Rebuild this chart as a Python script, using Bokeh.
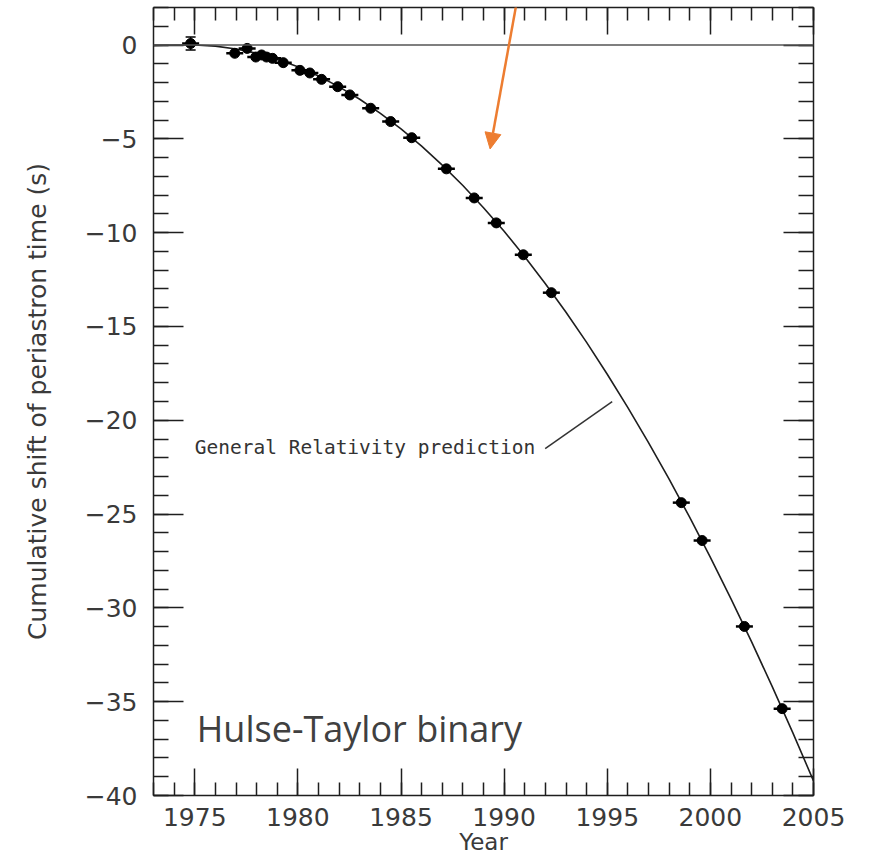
from bokeh.plotting import figure
from bokeh.models import (Range1d, LinearAxis, SingleIntervalTicker, Span, Label,
                          Arrow, NormalHead, Whisker, TeeHead, ColumnDataSource,
                          CustomJSTickFormatter)
from bokeh.embed import file_html
from bokeh.resources import INLINE

# ---- data ----
years = [1974.80, 1976.94, 1977.54, 1977.96, 1978.24, 1978.48, 1978.77, 1979.29,
         1980.10, 1980.58, 1981.15, 1981.93, 1982.52, 1983.53, 1984.50, 1985.52,
         1987.20, 1988.55, 1989.62, 1990.93, 1992.29, 1998.59, 1999.60, 2001.65,
         2003.48]
shift = [0.08, -0.44, -0.18, -0.64, -0.53, -0.64, -0.71, -0.94,
         -1.35, -1.49, -1.83, -2.22, -2.66, -3.37, -4.08, -4.94,
         -6.60, -8.15, -9.48, -11.18, -13.20, -24.39, -26.41, -30.99,
         -35.37]
err = [0.35, 0.0, 0.0, 0.0, 0.0, 0.0, 0.0, 0.0,
       0.0, 0.0, 0.0, 0.0, 0.0, 0.0, 0.0, 0.0,
       0.0, 0.0, 0.0, 0.0, 0.0, 0.0, 0.0, 0.0,
       0.0]

# General Relativity prediction curve (read at yearly steps)
gr_years = [1973, 1974, 1975, 1976, 1977, 1978, 1979, 1980, 1981, 1982, 1983,
            1984, 1985, 1986, 1987, 1988, 1989, 1990, 1991, 1992, 1993, 1994,
            1995, 1996, 1997, 1998, 1999, 2000, 2001, 2002, 2003, 2004, 2005]
gr_shift = [-0.02, 0.00, 0.00, -0.06, -0.21, -0.44, -0.76, -1.16, -1.65, -2.23,
            -2.89, -3.64, -4.47, -5.39, -6.40, -7.49, -8.67, -9.93, -11.28,
            -12.72, -14.24, -15.85, -17.55, -19.33, -21.19, -23.14, -25.18,
            -27.31, -29.52, -31.81, -34.20, -36.66, -39.22]

y_tick_values = [0, -5, -10, -15, -20, -25, -30, -35, -40]
y_tick_labels = ["0", "\u22125", "\u221210", "\u221215", "\u221220",
                 "\u221225", "\u221230", "\u221235", "\u221240"]

x_label = "Year"
y_label = "Cumulative shift of periastron time (s)"
gr_text = "General Relativity prediction"
title_text = "Hulse-Taylor binary"

TXT = "#3a3a3a"
INK = "#1e1e1e"

p = figure(frame_width=660, frame_height=788,
           x_range=Range1d(1973, 2005), y_range=Range1d(-40, 2),
           output_backend="svg", toolbar_location=None,
           min_border_left=153, min_border_right=61,
           min_border_top=7, min_border_bottom=61,
           background_fill_color="white", border_fill_color="white")
p.outline_line_color = None
p.xgrid.visible = False
p.ygrid.visible = False

top_ax = LinearAxis()
right_ax = LinearAxis()
p.add_layout(top_ax, "above")
p.add_layout(right_ax, "right")


def style(ax, horizontal, show):
    ax.ticker = SingleIntervalTicker(interval=5, num_minor_ticks=5)
    ax.axis_line_color = INK
    ax.axis_line_width = 1.5
    ax.major_tick_line_color = INK
    ax.major_tick_line_width = 1.5
    ax.minor_tick_line_color = INK
    ax.minor_tick_line_width = 1.5
    ax.major_tick_out = 0
    ax.minor_tick_out = 0
    ax.major_tick_in = 27 if horizontal else 30
    ax.minor_tick_in = 13 if horizontal else 15
    if show:
        ax.major_label_text_font = "DejaVu Sans"
        ax.major_label_text_font_size = "25px"
        ax.major_label_text_color = TXT
        ax.axis_label_text_font = "DejaVu Sans"
        ax.axis_label_text_font_size = "25px"
        ax.axis_label_text_font_style = "normal"
        ax.axis_label_text_color = TXT
    else:
        ax.formatter = CustomJSTickFormatter(code="return ''")
        ax.major_label_text_font_size = "1px"
        ax.major_label_standoff = 0


for ax in p.xaxis:
    style(ax, True, ax is not top_ax)
for ax in p.yaxis:
    style(ax, False, ax is not right_ax)

bx = p.below[0]
bx.axis_label = x_label
bx.axis_label_text_font_size = "23px"
bx.major_label_standoff = 12
bx.axis_label_standoff = 0

ly = p.left[0]
ly.axis_label = y_label
ly.major_label_standoff = 16
ly.axis_label_standoff = 30
ly.major_label_overrides = dict(zip(y_tick_values, y_tick_labels))

# zero line
p.add_layout(Span(location=0, dimension="width", line_color="#555555", line_width=1.5))

# GR curve
p.line(gr_years, gr_shift, line_color=INK, line_width=1.6)

# data points
src = ColumnDataSource(dict(x=years, y=shift,
                            lo=[s - e for s, e in zip(shift, err)],
                            hi=[s + e for s, e in zip(shift, err)]))
p.add_layout(Whisker(source=src, base="x", lower="lo", upper="hi", dimension="height",
                     line_color="black", line_width=1.5,
                     lower_head=TeeHead(size=10, line_color="black", line_width=1.5),
                     upper_head=TeeHead(size=10, line_color="black", line_width=1.5)))
p.scatter("x", "y", source=src, marker="dash", size=17, line_color="black", line_width=2.5)
p.scatter("x", "y", source=src, marker="circle", size=10, fill_color="black", line_color="black")

# label + pointer line
p.add_layout(Label(x=1975.0, y=-21.46, text=gr_text, text_font="DejaVu Sans Mono",
                   text_font_size="19.5px", text_color="#333333",
                   text_align="left", text_baseline="middle"))
p.add_layout(Arrow(x_start=1991.99, y_start=-21.51, x_end=1995.24, y_end=-19.01,
                   end=None, line_color="#333333", line_width=1.5))

# title-like label
p.add_layout(Label(x=1975.1, y=-36.45, text=title_text, text_font="Open Sans",
                   text_font_size="36px", text_color="#404040",
                   text_align="left", text_baseline="middle"))

# orange arrow
p.add_layout(Arrow(x_start=1990.63, y_start=2.4, x_end=1989.32, y_end=-5.54,
                   line_color="#ED7D31", line_width=2.5,
                   end=NormalHead(size=16, fill_color="#ED7D31", line_color="#ED7D31")))

open("out.html", "w").write(file_html(p, INLINE))
